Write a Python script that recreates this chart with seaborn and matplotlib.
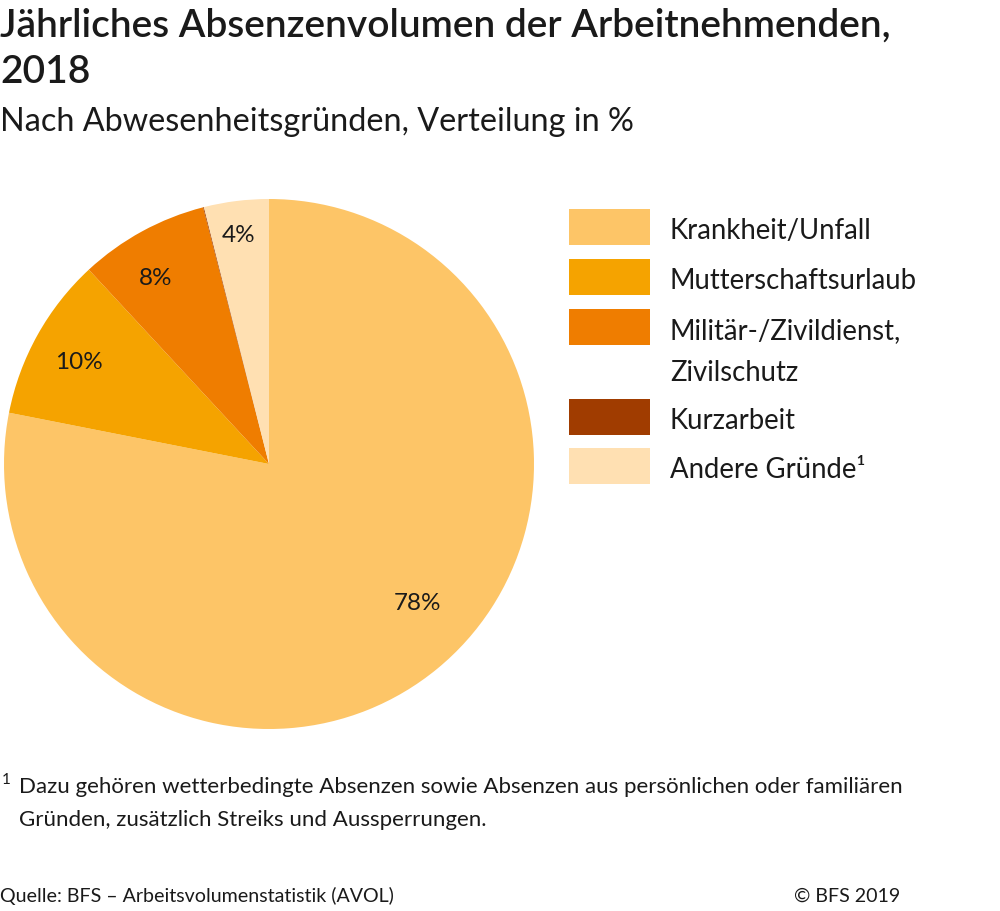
import matplotlib
matplotlib.use("Agg")
import numpy as np
import matplotlib.pyplot as plt
import seaborn as sns
from matplotlib.patches import Rectangle

# Data
categories = ["Krankheit/Unfall", "Mutterschaftsurlaub", "Militär-/Zivildienst,\nZivilschutz",
              "Kurzarbeit", "Andere Gründe¹"]
shares = [78.1, 10.0, 7.9, 0.05, 3.95]
colors = ["#FDC567", "#F5A300", "#EF7D00", "#A03C00", "#FFE0B2"]

title = "Jährliches Absenzenvolumen der Arbeitnehmenden,\n2018"
subtitle = "Nach Abwesenheitsgründen, Verteilung in %"
footnote = ("Dazu gehören wetterbedingte Absenzen sowie Absenzen aus persönlichen oder familiären\n"
            "Gründen, zusätzlich Streiks und Aussperrungen.")
source = "Quelle: BFS – Arbeitsvolumenstatistik (AVOL)"
copyright_txt = "© BFS 2019"

sns.set_theme(style="white")
plt.rcParams["font.family"] = ["Lato", "DejaVu Sans"]
txt = "#1a1a1a"

W, H = 1000, 911
fig = plt.figure(figsize=(W / 100, H / 100), dpi=100)


def fy(px):
    return 1 - px / H


def lines(x, baseline, text, step, **kw):
    for i, line in enumerate(text.split("\n")):
        fig.text(x / W, fy(baseline + i * step), line, va="baseline", color=txt, **kw)


# pie axes: centre (269, 464) px, radius 265 px
cx, cy, r = 269, 464, 265
ax = fig.add_axes([(cx - r) / W, (H - cy - r) / H, 2 * r / W, 2 * r / H])


def pct_label(p):
    return f"{p:.0f}%" if p >= 1 else ""


wedges, texts, autotexts = ax.pie(
    shares, colors=colors, startangle=90, counterclock=False,
    autopct=pct_label, wedgeprops=dict(linewidth=0),
    textprops=dict(fontsize=17.5, color=txt))
ax.set_xlim(-1, 1)
ax.set_ylim(-1, 1)
ax.set_aspect("equal")
ax.axis("off")

# label placement: radial distance and angular shift per slice
label_dist = [0.77, 0.815, 0.82, 0.8, 0.87]
label_shift = [7.4, 1.0, 2.7, 0.0, 0.5]
for w, t, d, s in zip(wedges, autotexts, label_dist, label_shift):
    ang = np.deg2rad((w.theta1 + w.theta2) / 2 + s)
    t.set_position((d * np.cos(ang), d * np.sin(ang)))

# titles
lines(0, 37, title, 46, fontsize=28, fontweight="semibold")
lines(0, 131, subtitle, 0, fontsize=23.3)

# legend drawn manually
row_y = [227, 277, 327, 417, 466]
for lab, col, y in zip(categories, colors, row_y):
    fig.add_artist(Rectangle((569 / W, fy(y + 18)), 81 / W, 36 / H,
                             transform=fig.transFigure, facecolor=col, edgecolor="none"))
    lines(670, y + 12, lab, 42, fontsize=19.8)

# footnote
fig.text(2 / W, fy(784), "1", va="baseline", fontsize=11, color=txt)
lines(19, 793, footnote, 33, fontsize=16)

# source
lines(0, 902, source, 0, fontsize=14.1)
fig.text(900 / W, fy(902), copyright_txt, ha="right", va="baseline", fontsize=14.1, color=txt)

fig.savefig("out.png", dpi=100, facecolor="white")
